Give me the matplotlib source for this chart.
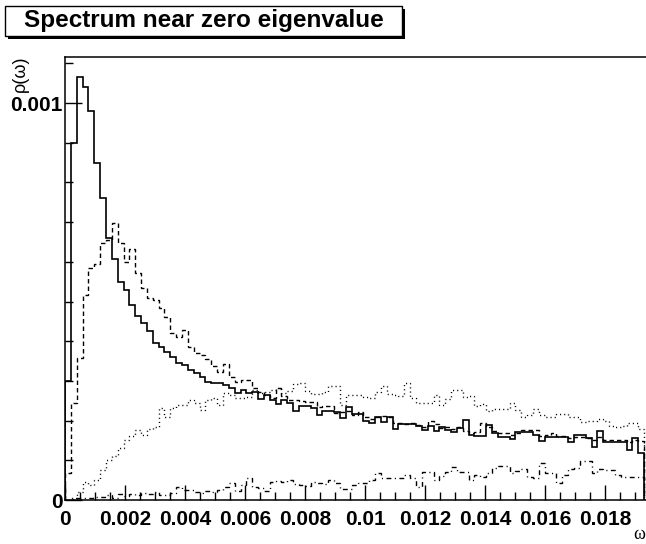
import numpy as np
import matplotlib
matplotlib.use("Agg")
import matplotlib.pyplot as plt
from matplotlib.patches import Rectangle
from matplotlib.ticker import MultipleLocator, FixedLocator

# bin width of the histograms and values per bin (units of 1e-3)
bin_width = 0.000195
solid = [
    0.300, 0.900, 1.066, 1.041, 0.980, 0.850, 0.760, 0.660, 0.606, 0.550, 0.530, 0.490,
    0.463, 0.447, 0.427, 0.395, 0.386,
    0.374, 0.361, 0.345, 0.340, 0.327, 0.320, 0.310, 0.298, 0.296, 0.294, 0.290, 0.282,
    0.270, 0.277, 0.270, 0.273, 0.254, 0.264, 0.252, 0.242, 0.252, 0.244, 0.225, 0.237,
    0.237, 0.231, 0.214, 0.225, 0.225, 0.222, 0.206, 0.235, 0.217, 0.217, 0.199, 0.195,
    0.208, 0.197, 0.208, 0.178, 0.191, 0.191, 0.191, 0.186, 0.176, 0.186, 0.175, 0.183,
    0.176, 0.172, 0.181, 0.202, 0.164,
    0.161, 0.161, 0.189, 0.170, 0.159, 0.159, 0.153, 0.172, 0.172, 0.172, 0.164, 0.149,
    0.159, 0.159, 0.159, 0.159, 0.147, 0.164, 0.164, 0.155, 0.134, 0.175, 0.147, 0.147,
    0.147, 0.147, 0.126, 0.157, 0.118,
]
dashed = [
    0.068, 0.244, 0.358,
    0.516, 0.584, 0.595, 0.647, 0.655, 0.698, 0.647, 0.600, 0.632, 0.572, 0.534, 0.509,
    0.504, 0.483,
    0.460, 0.420, 0.411, 0.428, 0.386, 0.370, 0.365, 0.355, 0.338, 0.323, 0.343,
    0.310, 0.298, 0.302, 0.302, 0.282, 0.273, 0.265, 0.258, 0.282, 0.262, 0.252, 0.252,
    0.250,
    0.248, 0.248, 0.235, 0.237, 0.237, 0.220, 0.222, 0.225, 0.215, 0.222, 0.210, 0.205,
    0.208, 0.212, 0.208, 0.195, 0.195, 0.192, 0.195, 0.188, 0.185, 0.200, 0.192, 0.182,
    0.185, 0.178, 0.183, 0.175, 0.170, 0.172, 0.195, 0.185, 0.175, 0.168, 0.170, 0.165,
    0.170, 0.176, 0.176, 0.176, 0.160, 0.165, 0.168, 0.160, 0.162, 0.155, 0.158, 0.158,
    0.155, 0.152, 0.158, 0.150, 0.152, 0.150, 0.150, 0.145, 0.150, 0.148,
]
dotted = [
    0.000, 0.005, 0.020, 0.046, 0.038, 0.050, 0.076, 0.100, 0.110, 0.130, 0.151, 0.160,
    0.176, 0.165, 0.180, 0.185, 0.231, 0.210,
    0.231, 0.240, 0.240, 0.252, 0.245, 0.227, 0.252, 0.257, 0.240, 0.270, 0.265, 0.257,
    0.257, 0.260, 0.277, 0.270, 0.272, 0.277, 0.282, 0.270, 0.275, 0.292, 0.294,
    0.275, 0.266, 0.266, 0.273, 0.287, 0.287, 0.240, 0.264, 0.264, 0.264, 0.260, 0.258,
    0.273, 0.287, 0.268, 0.264, 0.262, 0.295, 0.256, 0.244, 0.244, 0.244, 0.264, 0.240,
    0.254, 0.277, 0.277, 0.260, 0.262,
    0.237, 0.242, 0.225, 0.230, 0.230, 0.229, 0.244, 0.227, 0.210, 0.213, 0.230, 0.215,
    0.210, 0.210, 0.216, 0.216, 0.210, 0.209, 0.197, 0.200, 0.200, 0.205, 0.200, 0.186,
    0.183, 0.186, 0.193, 0.193, 0.180,
]
dashdot = [
    0.000, 0.003, 0.005, 0.006, 0.004, 0.008, 0.008, 0.012, 0.006, 0.014, 0.010, 0.016,
    0.012, 0.018, 0.014, 0.020, 0.012,
    0.012, 0.017, 0.034, 0.025, 0.025, 0.020, 0.017, 0.022, 0.020, 0.025, 0.034, 0.042,
    0.022, 0.038, 0.055, 0.034, 0.030, 0.022, 0.045, 0.048, 0.045, 0.050, 0.040,
    0.038, 0.036, 0.046, 0.042, 0.040, 0.050, 0.042, 0.027, 0.027, 0.038, 0.042, 0.042,
    0.050, 0.067, 0.055, 0.055, 0.055, 0.055, 0.063, 0.055, 0.034, 0.071, 0.071, 0.050,
    0.060, 0.070, 0.084, 0.070, 0.070, 0.050,
    0.063, 0.059, 0.068, 0.080, 0.086, 0.086, 0.068, 0.072, 0.078, 0.059, 0.055, 0.092,
    0.068, 0.068, 0.043, 0.063, 0.078, 0.080, 0.097, 0.097, 0.068, 0.078, 0.075, 0.075,
    0.063, 0.059, 0.057, 0.059, 0.059,
]
x_ticks = [0, 0.002, 0.004, 0.006, 0.008, 0.01, 0.012, 0.014, 0.016, 0.018]
x_labels = ["0", "0.002", "0.004", "0.006", "0.008", "0.01", "0.012", "0.014", "0.016", "0.018"]
y_ticks = [0, 0.001]
y_labels = ["0", "0.001"]
title = "Spectrum near zero eigenvalue"

W, H = 646, 544
fig = plt.figure(figsize=(W / 100, H / 100), dpi=100)
fig.patch.set_facecolor("white")

# frame: left 65 px, bottom 500 px, top 57 px; right side runs past the picture
x_max = 0.0195
px_per_unit = 30000.0
ax = fig.add_axes([65 / W, (H - 500) / H, x_max * px_per_unit / W, (500 - 57) / H])
ax.set_xlim(0, x_max)
ax.set_ylim(0, 0.001116)

edges = np.arange(len(solid) + 1) * bin_width
series = [
    (dotted, (0, (0.8, 2.2)), 1.0),
    (dashdot, (0, (3.5, 2.5, 0.8, 2.5)), 1.0),
    (dashed, (0, (3.2, 2.2)), 1.0),
    (solid, "-", 1.2),
]
for vals, ls, lw in series:
    ax.stairs(np.array(vals) * 1e-3, edges, baseline=0, color="black",
              linestyle=ls, linewidth=lw)

for s in ax.spines.values():
    s.set_linewidth(1.1)

bold = dict(family="Liberation Sans", weight="bold", size=15)
ax.xaxis.set_major_locator(FixedLocator(x_ticks))
ax.xaxis.set_minor_locator(MultipleLocator(0.0005))
ax.set_xticklabels(x_labels, fontdict=bold)
ax.yaxis.set_major_locator(FixedLocator(y_ticks))
ax.yaxis.set_minor_locator(MultipleLocator(0.0001))
ax.set_yticklabels(y_labels, fontdict=bold)
ax.tick_params(which="both", direction="in", top=False, right=False, width=1.0)
ax.tick_params(axis="x", which="major", length=11, pad=7)
ax.tick_params(axis="x", which="minor", length=5.5)
ax.tick_params(axis="y", which="major", length=12, pad=1.5)
ax.tick_params(axis="y", which="minor", length=6)

fig.text(12 / W, 1 - 56 / H, "ρ(ω)", rotation=90, ha="left", va="top",
         family="Liberation Sans", size=13)
fig.text(633 / W, 1 - 539 / H, "ω", ha="left", va="baseline",
         family="Liberation Serif", size=13)

# title box with shadow
bx0, bx1, by0, by1, sh = 5, 402, 6, 36, 3
fig.patches.append(Rectangle(((bx0 + sh) / W, 1 - (by1 + sh) / H), (bx1 - bx0) / W,
                             (by1 - by0) / H, transform=fig.transFigure,
                             facecolor="black", edgecolor="black", lw=0))
fig.patches.append(Rectangle((bx0 / W, 1 - by1 / H), (bx1 - bx0) / W, (by1 - by0) / H,
                             transform=fig.transFigure, facecolor="white",
                             edgecolor="black", lw=1.0))
fig.text((bx0 + bx1) / 2 / W, 1 - (by0 + by1) / 2 / H, title, ha="center", va="center",
         family="Liberation Sans", weight="bold", size=17.5)

fig.savefig("out.png", dpi=100)
plt.close(fig)
